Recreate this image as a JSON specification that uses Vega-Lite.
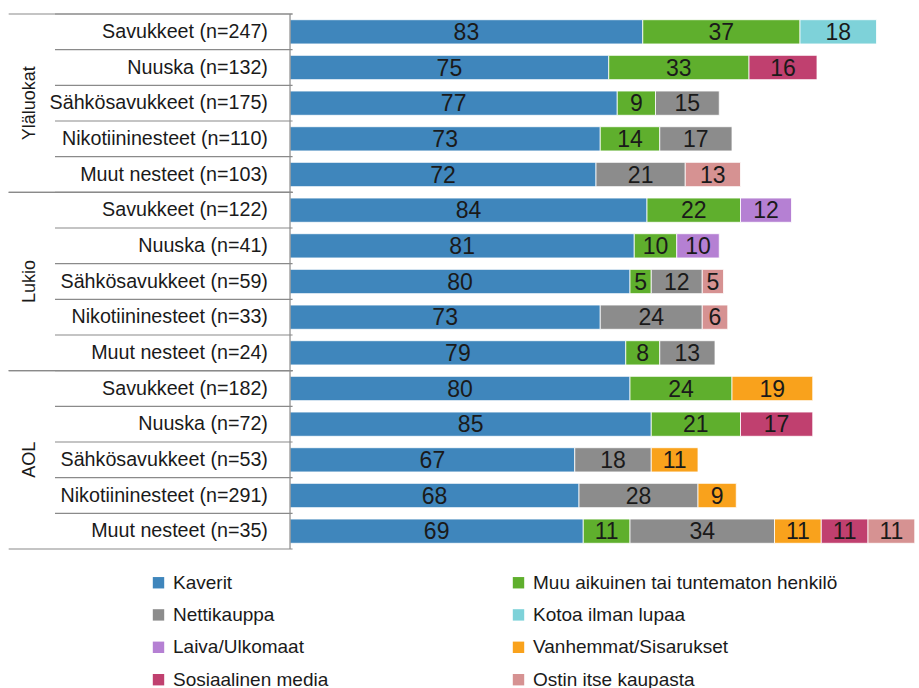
{
  "$schema": "https://vega.github.io/schema/vega-lite/v6.json",
  "width": 919,
  "height": 535,
  "autosize": {"type": "none"},
  "padding": {"left": 0, "top": 14, "right": 0, "bottom": 139},
  "config": {"view": {"stroke": null}, "font": "Liberation Sans"},
  "datasets": {
    "segs": [
      {"row": "Savukkeet (n=247)", "cat": "Kaverit", "value": 83},
      {"row": "Savukkeet (n=247)", "cat": "Muu aikuinen tai tuntematon henkilö", "value": 37},
      {"row": "Savukkeet (n=247)", "cat": "Kotoa ilman lupaa", "value": 18},
      {"row": "Nuuska (n=132)", "cat": "Kaverit", "value": 75},
      {"row": "Nuuska (n=132)", "cat": "Muu aikuinen tai tuntematon henkilö", "value": 33},
      {"row": "Nuuska (n=132)", "cat": "Sosiaalinen media", "value": 16},
      {"row": "Sähkösavukkeet (n=175)", "cat": "Kaverit", "value": 77},
      {"row": "Sähkösavukkeet (n=175)", "cat": "Muu aikuinen tai tuntematon henkilö", "value": 9},
      {"row": "Sähkösavukkeet (n=175)", "cat": "Nettikauppa", "value": 15},
      {"row": "Nikotiininesteet (n=110)", "cat": "Kaverit", "value": 73},
      {"row": "Nikotiininesteet (n=110)", "cat": "Muu aikuinen tai tuntematon henkilö", "value": 14},
      {"row": "Nikotiininesteet (n=110)", "cat": "Nettikauppa", "value": 17},
      {"row": "Muut nesteet (n=103)", "cat": "Kaverit", "value": 72},
      {"row": "Muut nesteet (n=103)", "cat": "Nettikauppa", "value": 21},
      {"row": "Muut nesteet (n=103)", "cat": "Ostin itse kaupasta", "value": 13},
      {"row": "Savukkeet (n=122)", "cat": "Kaverit", "value": 84},
      {"row": "Savukkeet (n=122)", "cat": "Muu aikuinen tai tuntematon henkilö", "value": 22},
      {"row": "Savukkeet (n=122)", "cat": "Laiva/Ulkomaat", "value": 12},
      {"row": "Nuuska (n=41)", "cat": "Kaverit", "value": 81},
      {"row": "Nuuska (n=41)", "cat": "Muu aikuinen tai tuntematon henkilö", "value": 10},
      {"row": "Nuuska (n=41)", "cat": "Laiva/Ulkomaat", "value": 10},
      {"row": "Sähkösavukkeet (n=59)", "cat": "Kaverit", "value": 80},
      {"row": "Sähkösavukkeet (n=59)", "cat": "Muu aikuinen tai tuntematon henkilö", "value": 5},
      {"row": "Sähkösavukkeet (n=59)", "cat": "Nettikauppa", "value": 12},
      {"row": "Sähkösavukkeet (n=59)", "cat": "Ostin itse kaupasta", "value": 5},
      {"row": "Nikotiininesteet (n=33)", "cat": "Kaverit", "value": 73},
      {"row": "Nikotiininesteet (n=33)", "cat": "Nettikauppa", "value": 24},
      {"row": "Nikotiininesteet (n=33)", "cat": "Ostin itse kaupasta", "value": 6},
      {"row": "Muut nesteet (n=24)", "cat": "Kaverit", "value": 79},
      {"row": "Muut nesteet (n=24)", "cat": "Muu aikuinen tai tuntematon henkilö", "value": 8},
      {"row": "Muut nesteet (n=24)", "cat": "Nettikauppa", "value": 13},
      {"row": "Savukkeet (n=182)", "cat": "Kaverit", "value": 80},
      {"row": "Savukkeet (n=182)", "cat": "Muu aikuinen tai tuntematon henkilö", "value": 24},
      {"row": "Savukkeet (n=182)", "cat": "Vanhemmat/Sisarukset", "value": 19},
      {"row": "Nuuska (n=72)", "cat": "Kaverit", "value": 85},
      {"row": "Nuuska (n=72)", "cat": "Muu aikuinen tai tuntematon henkilö", "value": 21},
      {"row": "Nuuska (n=72)", "cat": "Sosiaalinen media", "value": 17},
      {"row": "Sähkösavukkeet (n=53)", "cat": "Kaverit", "value": 67},
      {"row": "Sähkösavukkeet (n=53)", "cat": "Nettikauppa", "value": 18},
      {"row": "Sähkösavukkeet (n=53)", "cat": "Vanhemmat/Sisarukset", "value": 11},
      {"row": "Nikotiininesteet (n=291)", "cat": "Kaverit", "value": 68},
      {"row": "Nikotiininesteet (n=291)", "cat": "Nettikauppa", "value": 28},
      {"row": "Nikotiininesteet (n=291)", "cat": "Vanhemmat/Sisarukset", "value": 9},
      {"row": "Muut nesteet (n=35)", "cat": "Kaverit", "value": 69},
      {"row": "Muut nesteet (n=35)", "cat": "Muu aikuinen tai tuntematon henkilö", "value": 11},
      {"row": "Muut nesteet (n=35)", "cat": "Nettikauppa", "value": 34},
      {"row": "Muut nesteet (n=35)", "cat": "Vanhemmat/Sisarukset", "value": 11},
      {"row": "Muut nesteet (n=35)", "cat": "Sosiaalinen media", "value": 11},
      {"row": "Muut nesteet (n=35)", "cat": "Ostin itse kaupasta", "value": 11}
    ],
    "rows": [
      {"row": "Savukkeet (n=247)", "group": "Yläluokat"},
      {"row": "Nuuska (n=132)", "group": "Yläluokat"},
      {"row": "Sähkösavukkeet (n=175)", "group": "Yläluokat"},
      {"row": "Nikotiininesteet (n=110)", "group": "Yläluokat"},
      {"row": "Muut nesteet (n=103)", "group": "Yläluokat"},
      {"row": "Savukkeet (n=122)", "group": "Lukio"},
      {"row": "Nuuska (n=41)", "group": "Lukio"},
      {"row": "Sähkösavukkeet (n=59)", "group": "Lukio"},
      {"row": "Nikotiininesteet (n=33)", "group": "Lukio"},
      {"row": "Muut nesteet (n=24)", "group": "Lukio"},
      {"row": "Savukkeet (n=182)", "group": "AOL"},
      {"row": "Nuuska (n=72)", "group": "AOL"},
      {"row": "Sähkösavukkeet (n=53)", "group": "AOL"},
      {"row": "Nikotiininesteet (n=291)", "group": "AOL"},
      {"row": "Muut nesteet (n=35)", "group": "AOL"}
    ],
    "groups": [
      {"group": "Yläluokat", "first": "Savukkeet (n=247)", "mid": "Sähkösavukkeet (n=175)", "last": "Muut nesteet (n=103)"},
      {"group": "Lukio", "first": "Savukkeet (n=122)", "mid": "Sähkösavukkeet (n=59)", "last": "Muut nesteet (n=24)"},
      {"group": "AOL", "first": "Savukkeet (n=182)", "mid": "Sähkösavukkeet (n=53)", "last": "Muut nesteet (n=35)"}
    ]
  },
  "layer": [
    {
      "data": {"name": "segs"},
      "transform": [
        {"calculate": "indexof(['Kaverit','Muu aikuinen tai tuntematon henkilö','Nettikauppa','Kotoa ilman lupaa','Laiva/Ulkomaat','Vanhemmat/Sisarukset','Sosiaalinen media','Ostin itse kaupasta'], datum.cat)", "as": "ord"},
        {"stack": "value", "groupby": ["row"], "sort": [{"field": "ord", "order": "ascending"}], "as": ["x0", "x1"]},
        {"calculate": "(datum.x0 + datum.x1) / 2", "as": "mid"}
      ],
      "layer": [
        {
          "mark": {"type": "bar", "height": {"band": 0.68}, "stroke": "#ffffff", "strokeWidth": 0.8},
          "encoding": {
            "y": {
              "field": "row", "type": "nominal", "axis": null,
              "scale": {
                "domain": ["Savukkeet (n=247)", "Nuuska (n=132)", "Sähkösavukkeet (n=175)", "Nikotiininesteet (n=110)", "Muut nesteet (n=103)", "Savukkeet (n=122)", "Nuuska (n=41)", "Sähkösavukkeet (n=59)", "Nikotiininesteet (n=33)", "Muut nesteet (n=24)", "Savukkeet (n=182)", "Nuuska (n=72)", "Sähkösavukkeet (n=53)", "Nikotiininesteet (n=291)", "Muut nesteet (n=35)"],
                "paddingInner": 0, "paddingOuter": 0
              }
            },
            "x": {"field": "x0", "type": "quantitative", "axis": null, "scale": {"domain": [-68.24, 148], "nice": false, "zero": false}},
            "x2": {"field": "x1"},
            "color": {
              "field": "cat", "type": "nominal",
              "scale": {
                "domain": ["Kaverit", "Muu aikuinen tai tuntematon henkilö", "Nettikauppa", "Kotoa ilman lupaa", "Laiva/Ulkomaat", "Vanhemmat/Sisarukset", "Sosiaalinen media", "Ostin itse kaupasta"],
                "range": ["#3F86BC", "#5FAF2D", "#8C8C8C", "#7ED2D9", "#B580D3", "#F9A21C", "#C0406F", "#D69292"]
              },
              "legend": {
                "title": null, "orient": "none", "legendX": 149, "legendY": 559, "direction": "horizontal",
                "columns": 2, "columnPadding": 180, "rowPadding": 12.4,
                "symbolType": "square", "symbolSize": 130, "symbolStrokeWidth": 0,
                "labelFontSize": 19, "labelColor": "#1a1a1a", "labelFont": "Liberation Sans", "labelOffset": 5, "labelLimit": 400
              }
            }
          }
        },
        {
          "mark": {"type": "text", "fontSize": 23, "color": "#1a1a1a", "baseline": "middle", "align": "center", "font": "Liberation Sans", "dy": 1},
          "encoding": {
            "y": {"field": "row", "type": "nominal"},
            "x": {"field": "mid", "type": "quantitative"},
            "text": {"field": "value", "type": "quantitative"}
          }
        }
      ]
    },
    {
      "data": {"name": "rows"},
      "layer": [
        {
          "mark": {"type": "text", "align": "right", "baseline": "middle", "fontSize": 19.7, "color": "#1a1a1a", "font": "Liberation Sans"},
          "encoding": {
            "y": {"field": "row", "type": "nominal"},
            "x": {"datum": -5.2},
            "text": {"field": "row", "type": "nominal"}
          }
        },
        {
          "mark": {"type": "rule", "color": "#8a8a8a", "strokeWidth": 1.2},
          "encoding": {
            "y": {"field": "row", "type": "nominal", "bandPosition": 0},
            "x": {"datum": -55.3},
            "x2": {"datum": 0.6}
          }
        }
      ]
    },
    {
      "data": {"name": "groups"},
      "layer": [
        {
          "mark": {"type": "text", "angle": 270, "align": "center", "baseline": "middle", "fontSize": 18, "color": "#1a1a1a", "font": "Liberation Sans"},
          "encoding": {
            "y": {"field": "mid", "type": "nominal"},
            "x": {"datum": -61.2},
            "text": {"field": "group", "type": "nominal"}
          }
        },
        {
          "mark": {"type": "rule", "color": "#8a8a8a", "strokeWidth": 1.2},
          "encoding": {
            "y": {"field": "first", "type": "nominal", "bandPosition": 0},
            "x": {"datum": -66.2},
            "x2": {"datum": 0.6}
          }
        },
        {
          "mark": {"type": "rule", "color": "#8a8a8a", "strokeWidth": 1.2},
          "encoding": {
            "y": {"field": "last", "type": "nominal", "bandPosition": 1},
            "x": {"datum": -66.2},
            "x2": {"datum": 0.6}
          }
        }
      ]
    },
    {
      "data": {"values": [{}]},
      "mark": {"type": "rule", "color": "#8a8a8a", "strokeWidth": 1.2},
      "encoding": {"x": {"datum": 0}}
    }
  ]
}
